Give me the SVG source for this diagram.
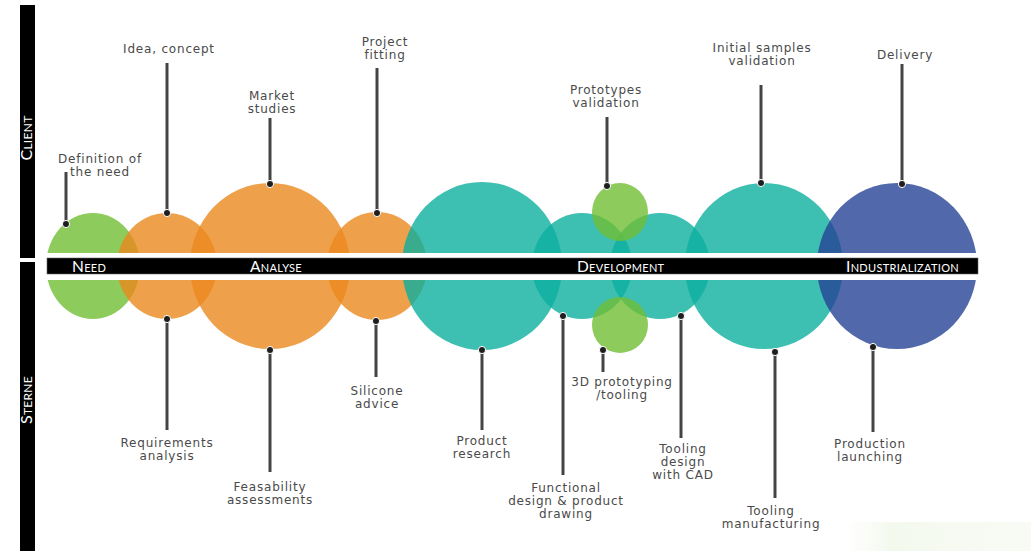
<svg xmlns="http://www.w3.org/2000/svg" width="1031" height="551" viewBox="0 0 1031 551">
  <style>
    .lbl { font-family: "DejaVu Sans", Verdana, sans-serif; font-size: 12px; fill: #4a4a4a; text-anchor: middle; letter-spacing: 0.8px; }
    .phase { font-family: "Lato", "Open Sans", sans-serif; fill: #fff; font-size: 11px; letter-spacing: 0.3px; }
    .big { font-size: 15.5px; }
    .side { font-family: "Lato", "Open Sans", sans-serif; fill: #fff; font-size: 12px; text-anchor: middle; letter-spacing: 0.3px; }
    .conn { stroke: #444; stroke-width: 3; fill: none; marker-end: url(#dot); }
    .c { opacity: 0.8; }
    .green { fill: #6fbe33; }
    .orange { fill: #eb881e; }
    .teal { fill: #0caf9f; }
    .blue { fill: #254395; }
  </style>
  <defs>
    <marker id="dot" viewBox="-5 -5 10 10" markerWidth="10" markerHeight="10" markerUnits="userSpaceOnUse" refX="0" refY="0" orient="auto">
      <circle r="3.6" fill="#1e1e1e" stroke="#fff" stroke-width="1"/>
    </marker>
    <linearGradient id="wm" x1="0" y1="0" x2="1" y2="0">
      <stop offset="0" stop-color="#f6faf2" stop-opacity="0"/>
      <stop offset="0.25" stop-color="#f4f9ee"/>
      <stop offset="1" stop-color="#f8fbf5"/>
    </linearGradient>
  </defs>
  <rect width="1031" height="551" fill="#fff"/>
  <rect x="845" y="522" width="186" height="29" fill="url(#wm)"/>

  <!-- left vertical bar -->
  <g id="side-bar">
    <rect x="20" y="5" width="15" height="253" fill="#000"/>
    <rect x="20" y="262" width="15" height="289" fill="#000"/>
    <text class="side" transform="translate(32,138) rotate(-90)"><tspan font-size="16">C</tspan>LIENT</text>
    <text class="side" transform="translate(32,400) rotate(-90)"><tspan font-size="16">S</tspan>TERNE</text>
  </g>

  <!-- circles -->
  <g id="node-need"><ellipse class="c green" cx="93" cy="266" rx="47" ry="53"/></g>
  <g id="node-idea"><ellipse class="c orange" cx="167" cy="266" rx="50" ry="53"/></g>
  <g id="node-market"><ellipse class="c orange" cx="270" cy="266" rx="80" ry="83"/></g>
  <g id="node-project"><ellipse class="c orange" cx="377" cy="266" rx="50" ry="54"/></g>
  <g id="node-research"><ellipse class="c teal" cx="482" cy="266" rx="80" ry="84"/></g>
  <g id="node-functional"><ellipse class="c teal" cx="582" cy="266" rx="50" ry="53"/></g>
  <g id="node-tooling-design"><ellipse class="c teal" cx="660" cy="266" rx="50" ry="53"/></g>
  <g id="node-proto-validation"><ellipse class="c green" cx="620" cy="212" rx="28" ry="29"/></g>
  <g id="node-3d-proto"><ellipse class="c green" cx="620" cy="325" rx="28" ry="28"/></g>
  <g id="node-samples"><ellipse class="c teal" cx="764" cy="266" rx="79" ry="83"/></g>
  <g id="node-industrial"><ellipse class="c blue" cx="897" cy="266" rx="80" ry="83"/></g>

  <!-- horizontal phase bar -->
  <g id="phase-bar">
    <rect x="43" y="253" width="938" height="27" fill="#fff"/>
    <rect x="47" y="258" width="931" height="16" fill="#000" stroke="#666" stroke-width="0.6"/>
    <text class="phase" x="72" y="272"><tspan class="big">N</tspan>EED</text>
    <text class="phase" x="250" y="272"><tspan class="big">A</tspan>NALYSE</text>
    <text class="phase" x="577" y="272"><tspan class="big">D</tspan>EVELOPMENT</text>
    <text class="phase" x="846" y="272"><tspan class="big">I</tspan>NDUSTRIALIZATION</text>
  </g>

  <!-- connectors -->
  <g id="connectors">
    <line class="conn" x1="66" y1="172" x2="66" y2="224"/>
    <line class="conn" x1="167" y1="63" x2="167" y2="213"/>
    <line class="conn" x1="270" y1="118" x2="270" y2="184"/>
    <line class="conn" x1="377" y1="68" x2="377" y2="213"/>
    <line class="conn" x1="607" y1="117" x2="607" y2="186"/>
    <line class="conn" x1="761" y1="85" x2="761" y2="183"/>
    <line class="conn" x1="902" y1="64" x2="902" y2="184"/>

    <line class="conn" x1="167" y1="430" x2="167" y2="319"/>
    <line class="conn" x1="270" y1="472" x2="270" y2="350"/>
    <line class="conn" x1="376" y1="377" x2="376" y2="321"/>
    <line class="conn" x1="482" y1="430" x2="482" y2="350"/>
    <line class="conn" x1="563" y1="475" x2="563" y2="316"/>
    <line class="conn" x1="603" y1="372" x2="603" y2="350"/>
    <line class="conn" x1="681" y1="438" x2="681" y2="316"/>
    <line class="conn" x1="775" y1="498" x2="775" y2="352"/>
    <line class="conn" x1="873" y1="432" x2="873" y2="347"/>
  </g>

  <!-- labels -->
  <g id="labels">
    <text class="lbl" x="100" y="163">Definition of</text>
    <text class="lbl" x="100" y="176">the need</text>
    <text class="lbl" x="169" y="53">Idea, concept</text>
    <text class="lbl" x="272" y="100">Market</text>
    <text class="lbl" x="272" y="113">studies</text>
    <text class="lbl" x="385" y="46">Project</text>
    <text class="lbl" x="385" y="59">fitting</text>
    <text class="lbl" x="606" y="94">Prototypes</text>
    <text class="lbl" x="606" y="107">validation</text>
    <text class="lbl" x="762" y="52">Initial samples</text>
    <text class="lbl" x="762" y="65">validation</text>
    <text class="lbl" x="905" y="59">Delivery</text>

    <text class="lbl" x="167" y="447">Requirements</text>
    <text class="lbl" x="167" y="460">analysis</text>
    <text class="lbl" x="270" y="491">Feasability</text>
    <text class="lbl" x="270" y="504">assessments</text>
    <text class="lbl" x="377" y="395">Silicone</text>
    <text class="lbl" x="377" y="408">advice</text>
    <text class="lbl" x="482" y="445">Product</text>
    <text class="lbl" x="482" y="458">research</text>
    <text class="lbl" x="566" y="492">Functional</text>
    <text class="lbl" x="566" y="505">design &amp; product</text>
    <text class="lbl" x="566" y="518">drawing</text>
    <text class="lbl" x="622" y="386">3D prototyping</text>
    <text class="lbl" x="622" y="399">/tooling</text>
    <text class="lbl" x="683" y="453">Tooling</text>
    <text class="lbl" x="683" y="466">design</text>
    <text class="lbl" x="683" y="479">with CAD</text>
    <text class="lbl" x="771" y="515">Tooling</text>
    <text class="lbl" x="771" y="528">manufacturing</text>
    <text class="lbl" x="870" y="448">Production</text>
    <text class="lbl" x="870" y="461">launching</text>
  </g>
</svg>
